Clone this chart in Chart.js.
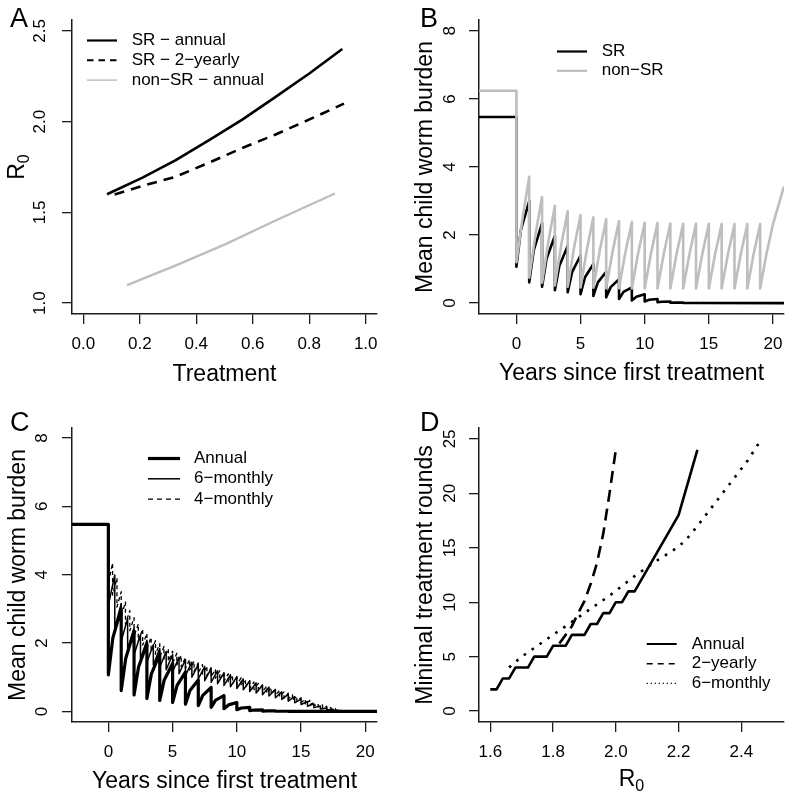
<!DOCTYPE html>
<html><head><meta charset="utf-8">
<script src="https://cdn.jsdelivr.net/npm/chart.js@4.4.1/dist/chart.umd.min.js"></script>
<style>
html,body{margin:0;padding:0;background:#fff;width:789px;height:795px;overflow:hidden}
canvas{position:absolute;display:block}
</style></head><body>
<canvas id="cA" width="395" height="395" style="left:0;top:0;width:395px;height:395px"></canvas>
<canvas id="cB" width="394" height="395" style="left:395px;top:0;width:394px;height:395px"></canvas>
<canvas id="cC" width="395" height="400" style="left:0;top:395px;width:395px;height:400px"></canvas>
<canvas id="cD" width="394" height="400" style="left:395px;top:395px;width:394px;height:400px"></canvas>
<script>
// ---------------- DATA ----------------
// Panel A: R0 vs treatment
const trtSRAnnual   = [0.084,0.208,0.326,0.444,0.563,0.681,0.799,0.917];
const r0SRAnnual    = [1.600,1.690,1.787,1.897,2.011,2.136,2.264,2.400];
const trtSR2Yearly  = [0.111,0.208,0.326,0.444,0.563,0.681,0.799,0.923];
const r0SR2Yearly   = [1.599,1.645,1.696,1.773,1.855,1.929,2.011,2.099];
const trtNonSR      = [0.155,0.326,0.504,0.681,0.891];
const r0NonSR       = [1.099,1.207,1.325,1.455,1.604];
const ticksAx = [0.0,0.2,0.4,0.6,0.8,1.0];
const ticksAy = [1.0,1.5,2.0,2.5];

// Panel B/C: worm burden over time (annual SR)
const baseSR = 5.47, baseNonSR = 6.24, preStart = -3;
const annualYears = [0,1,2,3,4,5,6,7,8,9,10,11,12,13];
const srTrough = [1.07,0.61,0.48,0.38,0.32,0.26,0.21,0.17,0.12,0.08,0.05,0.025,0.01,0.004];
const srMid    = [2.15,1.55,1.30,1.10,0.92,0.76,0.61,0.47,0.33,0.19,0.10,0.04,0.015,0.005];
const srPeak   = [3.00,2.35,1.98,1.68,1.40,1.15,0.92,0.70,0.46,0.26,0.12,0.045,0.015,0.005];
const srMidOffset = 0.35;
const srTailYears = [14,21];
const srTailVals  = [0.002,0.0];

const nonSRYears  = [0,1,2,3,4,5,6,7,8,9,10,11,12,13,14,15,16,17,18,19];
const nsTrough = [1.20,0.75,0.60,0.52,0.48,0.46,0.45,0.44,0.44,0.43,0.43,0.43,0.43,0.43,0.43,0.43,0.43,0.43,0.43,0.43];
const nsMid    = [2.55,2.05,1.83,1.72,1.64,1.59,1.55,1.52,1.50,1.49,1.48,1.47,1.47,1.46,1.46,1.46,1.46,1.46,1.46,1.46];
const nsPeak   = [3.71,3.12,2.86,2.70,2.59,2.52,2.46,2.41,2.38,2.36,2.35,2.34,2.33,2.33,2.33,2.32,2.32,2.32,2.32,2.32];
const nsMidOffset = 0.5;
const nsTailYears = [20.86];
const nsTailVals  = [3.43];

// Panel C: 6-monthly and 4-monthly
const sixYears  = [0,0.5,1,1.5,2,2.5,3,3.5,4,4.5,5,5.5,6,6.5,7,7.5,8,8.5,9,9.5,10,10.5,11,11.5,12,12.5,13,13.5,14,14.5,15,15.5,16,16.5,17,17.5];
const sixTrough = [3.10,2.45,2.05,1.82,1.66,1.54,1.44,1.36,1.29,1.22,1.16,1.10,1.05,1.00,0.95,0.90,0.85,0.81,0.76,0.72,0.67,0.63,0.58,0.54,0.49,0.45,0.40,0.35,0.30,0.25,0.20,0.15,0.11,0.07,0.04,0.02];
const sixPeak   = [3.99,3.15,2.72,2.44,2.24,2.08,1.95,1.84,1.75,1.66,1.58,1.51,1.44,1.37,1.31,1.25,1.19,1.13,1.07,1.01,0.95,0.89,0.83,0.77,0.71,0.64,0.57,0.50,0.43,0.36,0.29,0.22,0.16,0.10,0.06,0.03];
const sixTailYears = [18,19,21];
const sixTailVals  = [0.01,0.0,0.0];

const fourYears  = [0,0.33,0.67,1,1.33,1.67,2,2.33,2.67,3,3.33,3.67,4,4.33,4.67,5,5.33,5.67,6,6.33,6.67,7,7.33,7.67,8,8.33,8.67,9,9.33,9.67,10,10.33,10.67,11,11.33,11.67,12,12.33,12.67,13,13.33,13.67,14,14.33,14.67,15,15.33,15.67,16,16.33,16.67,17,17.33,17.67];
const fourTrough = [3.75,3.40,3.05,2.78,2.55,2.36,2.20,2.06,1.94,1.84,1.75,1.67,1.60,1.53,1.47,1.41,1.36,1.31,1.26,1.21,1.17,1.13,1.09,1.05,1.01,0.97,0.93,0.89,0.85,0.81,0.78,0.74,0.71,0.67,0.64,0.60,0.57,0.53,0.50,0.46,0.43,0.39,0.36,0.32,0.29,0.25,0.22,0.19,0.16,0.13,0.10,0.08,0.06,0.04];
const fourPeak   = [4.34,3.90,3.50,3.20,2.95,2.74,2.56,2.41,2.28,2.17,2.07,1.98,1.90,1.83,1.76,1.70,1.64,1.58,1.52,1.47,1.42,1.37,1.32,1.28,1.23,1.19,1.14,1.10,1.06,1.02,0.98,0.94,0.90,0.86,0.82,0.78,0.74,0.70,0.66,0.62,0.57,0.53,0.49,0.45,0.40,0.36,0.32,0.27,0.23,0.19,0.15,0.11,0.08,0.05];
const fourTailYears = [18,18.5,19,21];
const fourTailVals  = [0.03,0.01,0.0,0.0];

const ticksYears  = [0,5,10,15,20];
const ticksBurden = [0,2,4,6,8];

// Panel D: minimal treatment rounds vs R0
const r0DAnnual     = [1.60,1.62,1.64,1.66,1.68,1.72,1.74,1.78,1.80,1.84,1.86,1.90,1.92,1.94,1.96,1.98,2.00,2.02,2.04,2.06,2.20,2.26];
const roundsAnnual  = [2,2,3,3,4,4,5,5,6,6,7,7,8,8,9,9,10,10,11,11,18,24];
const r0D2Yearly    = [1.82,1.84,1.86,1.88,1.90,1.92,1.94,1.96,1.98,2.00];
const rounds2Yearly = [6.2,7.0,7.8,9.0,10.1,11.7,13.6,16.3,20.0,24.0];
const r0D6Monthly   = [1.66,1.70,1.74,1.78,1.82,1.86,1.90,1.94,1.98,2.02,2.06,2.10,2.14,2.18,2.22,2.26,2.30,2.34,2.38,2.42,2.46];
const rounds6Monthly= [4.0,5.0,5.8,6.6,7.4,8.2,9.0,9.8,10.6,11.5,12.4,13.2,14.0,14.7,15.6,17.0,18.5,20.0,21.5,23.0,24.8];
const ticksDx = [1.6,1.8,2.0,2.2,2.4];
const ticksDy = [0,5,10,15,20,25];

// ---------------- HELPERS ----------------
const FONT = '"Liberation Sans", Arial, Helvetica, sans-serif';
const AX = '#1c1c1c';
const GRAY = '#bebebe';

function pts(xs, ys){ return xs.map((x,i)=>({x:x, y:ys[i]})); }

function cycles(base, times, trough, mid, midOff, peak, tailX, tailY){
  const p = [{x:preStart, y:base}, {x:times[0], y:base}];
  const step = times[1]-times[0];
  for (let i=0;i<times.length;i++){
    const t = times[i];
    const next = (i+1<times.length) ? times[i+1] : t+step;
    p.push({x:t, y:trough[i]});
    if (mid) p.push({x:t+midOff, y:mid[i]});
    p.push({x:next, y:peak[i]});
  }
  tailX.forEach((x,i)=>p.push({x:x, y:tailY[i]}));
  return p;
}

function ds(label, data, color, width, dash, order){
  return {label, data, borderColor:color, backgroundColor:color, borderWidth:width,
    borderDash:dash||[], pointRadius:0, pointHoverRadius:0, fill:false, tension:0,
    borderJoinStyle:'round', borderCapStyle:'butt', order:order||0};
}

function scale(o){
  return {
    type:'linear', min:o.min, max:o.max, bounds:'data', position:o.isY?'left':'bottom',
    afterBuildTicks: s => { s.ticks = o.ticks.map(v=>({value:v})); },
    afterFit: s => {
      if (o.isY) s.width = o.size; else s.height = o.size;
      s.paddingLeft = 0; s.paddingRight = 0; s.paddingTop = 0; s.paddingBottom = 0;
    },
    ticks:{ callback:(v)=>o.fmt(v), color:'#000', font:{family:FONT, size:17}, padding:o.pad,
      autoSkip:false, minRotation:o.isY?90:0, maxRotation:o.isY?90:0, crossAlign:o.isY?'center':'near' },
    grid:{ display:true, drawOnChartArea:false, drawTicks:true, tickLength:10, tickWidth:1.3,
      tickColor:AX, color:AX, lineWidth:1.3 },
    border:{ display:true, color:AX, width:1.5 },
    title: o.title ? {display:true, text:o.title, color:'#000', font:{family:FONT, size:23}, padding:o.titlePad}
                   : {display:false}
  };
}

const decor = {
  id:'decor',
  afterDraw(chart, args, opts){
    const ctx = chart.ctx;
    ctx.save();
    ctx.fillStyle = '#000';
    ctx.textAlign = 'left';
    ctx.textBaseline = 'alphabetic';
    ctx.font = '27px ' + FONT;
    ctx.fillText(opts.letter, opts.letterX, opts.letterY);
    const lg = opts.legend;
    ctx.font = '17px ' + FONT;
    ctx.textBaseline = 'middle';
    lg.rows.forEach((r,i)=>{
      const d = chart.data.datasets[r.ds];
      const y = lg.y0 + i*lg.dy;
      ctx.beginPath();
      ctx.strokeStyle = d.borderColor;
      ctx.lineWidth = r.lw;
      ctx.lineCap = 'butt';
      ctx.setLineDash(r.dash || []);
      ctx.moveTo(lg.x0, y); ctx.lineTo(lg.x1, y); ctx.stroke();
      ctx.setLineDash([]);
      ctx.fillText(d.label, lg.tx, y);
    });
    if (opts.r0){
      const a = chart.chartArea;
      ctx.textBaseline = 'alphabetic';
      ctx.font = '23px ' + FONT;
      const wR = ctx.measureText('R').width;
      ctx.font = '16px ' + FONT;
      const w0 = ctx.measureText('0').width;
      const w = wR + w0;
      ctx.save();
      if (opts.r0.axis === 'y'){
        ctx.translate(opts.r0.base, (a.top+a.bottom)/2);
        ctx.rotate(-Math.PI/2);
      } else {
        ctx.translate((a.left+a.right)/2, opts.r0.base);
      }
      ctx.font = '23px ' + FONT;
      ctx.fillText('R', -w/2, 0);
      ctx.font = '16px ' + FONT;
      ctx.fillText('0', -w/2 + wR, 5);
      ctx.restore();
    }
    ctx.restore();
  }
};

function make(id, datasets, xs, ys, padding, decorOpts){
  return new Chart(document.getElementById(id), {
    type:'line',
    data:{datasets},
    options:{
      responsive:false, animation:false, devicePixelRatio:1,
      layout:{padding, autoPadding:false},
      events:[],
      plugins:{legend:{display:false}, tooltip:{enabled:false}, decor:decorOpts},
      scales:{x:xs, y:ys}
    },
    plugins:[decor]
  });
}

const f1 = v => Number(v).toFixed(1);
const f0 = v => String(v);

// ---------------- PANEL A ----------------
make('cA', [
  ds('SR \u2212 annual', pts(trtSRAnnual, r0SRAnnual), '#000', 2.6),
  ds('SR \u2212 2\u2212yearly', pts(trtSR2Yearly, r0SR2Yearly), '#000', 2.6, [10,7]),
  ds('non\u2212SR \u2212 annual', pts(trtNonSR, r0NonSR), GRAY, 2.4)
],
  scale({min:-0.04, max:1.04, ticks:ticksAx, fmt:f1, size:81, pad:10, title:'Treatment', titlePad:{top:0,bottom:6.5}}),
  scale({min:0.94, max:2.56, ticks:ticksAy, fmt:f1, size:72, pad:10, isY:true}),
  {left:0, top:20, right:18, bottom:0},
  {letter:'A', letterX:10, letterY:27,
   legend:{x0:87, x1:117, tx:131.7, y0:40.5, dy:19.8,
     rows:[{ds:0, lw:2.2},{ds:1, lw:2, dash:[6.5,5]},{ds:2, lw:1.5}]},
   r0:{axis:'y', base:23.5}}
);

// ---------------- PANEL B ----------------
make('cB', [
  ds('SR', cycles(baseSR, annualYears, srTrough, srMid, srMidOffset, srPeak, srTailYears, srTailVals), '#000', 2.6, null, 1),
  ds('non\u2212SR', cycles(baseNonSR, nonSRYears, nsTrough, nsMid, nsMidOffset, nsPeak, nsTailYears, nsTailVals), GRAY, 2.6, null, 0)
],
  scale({min:-2.915, max:20.86, ticks:ticksYears, fmt:f0, size:81, pad:10, title:'Years since first treatment', titlePad:{top:0,bottom:8}}),
  scale({min:-0.32, max:8.32, ticks:ticksBurden, fmt:f0, size:84, pad:14, isY:true, title:'Mean child worm burden', titlePad:{top:17,bottom:0}}),
  {left:0, top:20, right:5, bottom:0},
  {letter:'B', letterX:25, letterY:27,
   legend:{x0:162, x1:192, tx:206.7, y0:51.5, dy:19.3,
     rows:[{ds:0, lw:2.2},{ds:1, lw:2.2}]}}
);

// ---------------- PANEL C ----------------
make('cC', [
  ds('Annual', cycles(baseSR, annualYears, srTrough, srMid, srMidOffset, srPeak, srTailYears, srTailVals), '#000', 3.2, null, 0),
  ds('6\u2212monthly', cycles(baseSR, sixYears, sixTrough, null, 0, sixPeak, sixTailYears, sixTailVals), '#000', 1.5, null, 1),
  ds('4\u2212monthly', cycles(baseSR, fourYears, fourTrough, null, 0, fourPeak, fourTailYears, fourTailVals), '#000', 1.3, [4,3], 2)
],
  scale({min:-2.83, max:20.91, ticks:ticksYears, fmt:f0, size:73, pad:10, title:'Years since first treatment', titlePad:{top:0,bottom:0}}),
  scale({min:-0.31, max:8.29, ticks:ticksBurden, fmt:f0, size:72, pad:15, isY:true, title:'Mean child worm burden', titlePad:{top:5,bottom:0}}),
  {left:0, top:33, right:18, bottom:0},
  {letter:'C', letterX:10, letterY:36,
   legend:{x0:148, x1:180, tx:194, y0:63.5, dy:20.3,
     rows:[{ds:0, lw:3.2},{ds:1, lw:1.5},{ds:2, lw:1.3, dash:[5,4]}]}}
);

// ---------------- PANEL D ----------------
make('cD', [
  ds('Annual', pts(r0DAnnual, roundsAnnual), '#000', 2.6),
  ds('2\u2212yearly', pts(r0D2Yearly, rounds2Yearly), '#000', 2.6, [12,7]),
  ds('6\u2212monthly', pts(r0D6Monthly, rounds6Monthly), '#000', 2.6, [2.6,7])
],
  scale({min:1.564, max:2.536, ticks:ticksDx, fmt:f1, size:73, pad:10}),
  scale({min:-1, max:26, ticks:ticksDy, fmt:f0, size:84, pad:9, isY:true, title:'Minimal treatment rounds', titlePad:{top:17,bottom:0}}),
  {left:0, top:33, right:5, bottom:0},
  {letter:'D', letterX:25, letterY:36,
   legend:{x0:251.7, x1:281.7, tx:296.7, y0:249, dy:19.7,
     rows:[{ds:0, lw:2},{ds:1, lw:1.5, dash:[6,5]},{ds:2, lw:1.2, dash:[1.2,2.8]}]},
   r0:{axis:'x', base:390.5}}
);
</script>
</body></html>
